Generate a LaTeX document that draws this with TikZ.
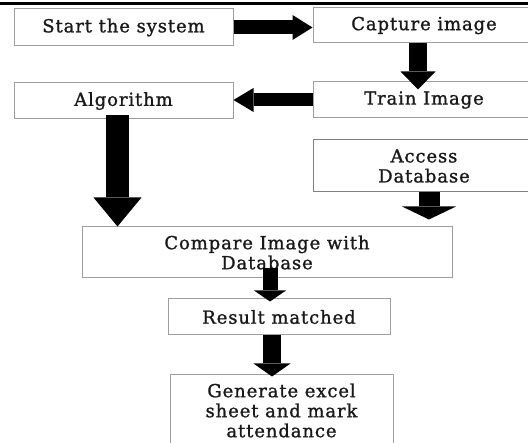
\documentclass[tikz,border=0pt]{standalone}
\usepackage{fontspec}
\setmainfont{DejaVu Serif}[LetterSpace=5, FakeBold=1.2]
\usetikzlibrary{arrows.meta,calc}
\tikzset{
  box/.style={draw=black!38, line width=1pt, fill=white, inner sep=0pt,
    font=\fontsize{18}{20}\selectfont, text=black!90, align=center},
  barrow/.style n args={4}{line width=#1, draw=black, line cap=butt,
    -{Triangle[length=#2, width=#3, line width=0pt]}, shorten >=#4},
}
\begin{document}
\begin{tikzpicture}[x=1pt,y=-1pt]
\useasboundingbox (0,0) rectangle (528,443);
\clip (0,0) rectangle (528,443);
\fill[white] (0,0) rectangle (528,443);
\draw[line width=3pt] (0,3.5) -- (528,3.5);
% boxes
\node[box, minimum width=219pt, minimum height=37pt] (start) at (123.5,27.5) {Start the system};
\node[box, minimum width=222pt, minimum height=35pt] (capture) at (424,25.5) {Capture image};
\node[box, minimum width=219pt, minimum height=36pt] (algorithm) at (123.5,101) {Algorithm};
\node[box, minimum width=222pt, minimum height=36pt] (train) at (424,100) {Train Image};
\node[box, minimum width=222pt, minimum height=52pt, draw=black!50] (access) at (424,166) {Access\\Database};
\node[box, minimum width=370pt, minimum height=51pt] (compare) at (267,252.5) {Compare Image with\\Database};
\node[box, minimum width=222pt, minimum height=36pt] (result) at (279,317) {Result matched};
\node[box, minimum width=223pt, minimum height=71pt] (generate) at (281.5,410.5) {Generate excel\\sheet and mark\\attendance};
% arrows
\draw[barrow={14pt}{20pt}{25pt}{0pt}] (start.east) -- (start.east -| capture.west);
\draw[barrow={18pt}{18pt}{35pt}{0pt}] ($(capture.south)+(-6,0)$) coordinate (c1) -- ($(c1 |- train.north)+(0,8)$);
\draw[barrow={13pt}{20pt}{24pt}{0pt}] (train.west) -- (train.west -| algorithm.east);
\draw[barrow={23pt}{29pt}{48pt}{0pt}] ($(algorithm.south)+(-6,-4)$) coordinate (a1) -- (a1 |- compare.north);
\draw[barrow={21pt}{13pt}{54pt}{7pt}] ($(access.south)+(5,0)$) coordinate (d1) -- (d1 |- compare.north);
\draw[barrow={15pt}{11pt}{32pt}{0pt}] ($(compare.south)+(3,-10)$) coordinate (e1) -- ($(e1 |- result.north)+(0,3)$);
\draw[barrow={18pt}{13pt}{37pt}{0pt}] ($(result.south)+(-7,0)$) coordinate (f1) -- ($(f1 |- generate.north)+(0,2)$);
\end{tikzpicture}
\end{document}
